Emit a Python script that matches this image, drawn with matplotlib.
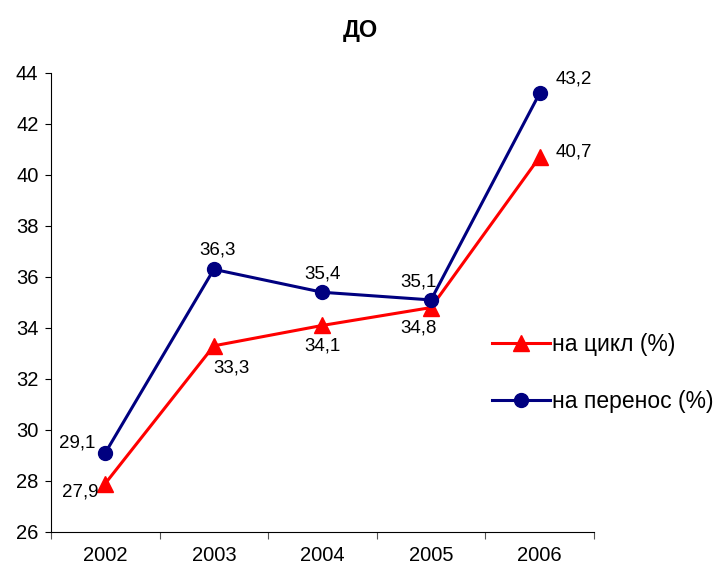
import matplotlib.pyplot as plt
import numpy as np

plt.rcParams["font.family"] = ["Liberation Sans", "DejaVu Sans"]

years = ["2002", "2003", "2004", "2005", "2006"]
cycle = [27.9, 33.3, 34.1, 34.8, 40.7]
transfer = [29.1, 36.3, 35.4, 35.1, 43.2]

# label offsets in points (dx, dy) for each point
cycle_offsets = [(-18, -6), (13, -16), (0, -15), (-9, -15), (25, 4)]
transfer_offsets = [(-20, 7), (3, 14), (0, 13), (-9, 13), (25, 10)]

fig = plt.figure(figsize=(7.2, 5.72), dpi=100)
ax = fig.add_axes([0.0708, 0.07, 0.754, 0.8024])

x = np.arange(len(years))
ax.plot(x, cycle, color="#ff0000", lw=2.2, marker="^", ms=11, label="на цикл (%)")
ax.plot(x, transfer, color="#000080", lw=2.2, marker="o", ms=10, label="на перенос (%)")

for xi, v, (dx, dy) in zip(x, cycle, cycle_offsets):
    ax.annotate(f"{v:.1f}".replace(".", ","), (xi, v), xytext=(dx, dy),
                textcoords="offset points", ha="center", va="center", fontsize=13.5)
for xi, v, (dx, dy) in zip(x, transfer, transfer_offsets):
    ax.annotate(f"{v:.1f}".replace(".", ","), (xi, v), xytext=(dx, dy),
                textcoords="offset points", ha="center", va="center", fontsize=13.5)

ax.set_xlim(-0.5, len(years) - 0.5)
ax.set_ylim(26, 44)
ax.set_yticks(np.arange(26, 45, 2))
ax.set_xticks(np.arange(-0.5, len(years), 1.0))
ax.set_xticklabels([])
ax.set_xticks(x, minor=True)
ax.set_xticklabels(years, minor=True)
ax.tick_params(axis="x", which="minor", length=0, pad=10, labelsize=14.5)
ax.tick_params(axis="x", which="major", length=5, color="#555555")
ax.tick_params(axis="y", length=4, labelsize=14.5, pad=5)

ax.spines.right.set_visible(False)
ax.spines.top.set_visible(False)

fig.text(0.5, 0.947, "ДО", ha="center", va="center", fontsize=17, fontweight="bold")

fig.legend(loc="center left", bbox_to_anchor=(0.655, 0.348), frameon=False,
           fontsize=16.5, handlelength=2.5, handletextpad=0.1, labelspacing=1.5)

plt.savefig("out.png")
